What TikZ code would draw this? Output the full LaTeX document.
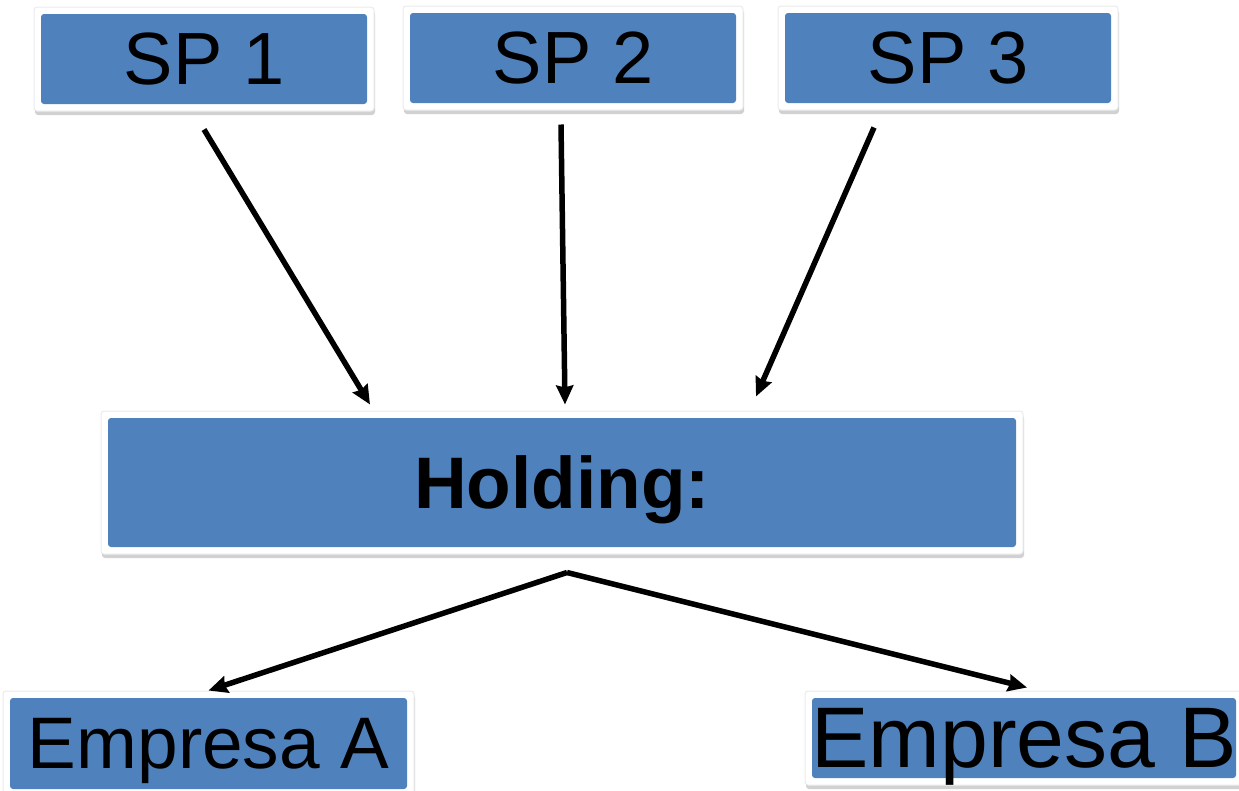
\documentclass[tikz,border=0pt]{standalone}
\usepackage{fontspec}
\setmainfont{Liberation Sans}
\usetikzlibrary{arrows.meta,shadows}
\definecolor{boxblue}{HTML}{4F81BD}

\begin{document}
\begin{tikzpicture}[x=1pt, y=-1pt, >={Stealth[length=19pt,width=17pt,inset=2pt]},
    framed/.style={rectangle, rounded corners=3pt, fill=white, draw=black!8, line width=1pt,
      inner sep=0pt, text depth=0pt,
      drop shadow={shadow xshift=1pt, shadow yshift=-4pt, opacity=0.18, fill=black},
      path picture={\fill[boxblue] ([shift={(7pt,7pt)}]path picture bounding box.south west)
        rectangle ([shift={(-7pt,-7pt)}]path picture bounding box.north east);}},
    every node/.style={font=\fontsize{74}{80}\selectfont}]
      \useasboundingbox (0,0) rectangle (1239,790);
      \node[framed, minimum width=340pt, minimum height=104pt] (sp1) at (204,59) {SP 1};
      \node[framed, minimum width=340pt, minimum height=104pt] (sp2) at (573,58) {SP 2};
      \node[framed, minimum width=340pt, minimum height=104pt] (sp3) at (948,58) {SP 3};
      \node[framed, minimum width=922pt, minimum height=143pt, font=\fontsize{73}{80}\selectfont\bfseries]
            (holding) at (562,482.5) {Holding:};
      \node[framed, minimum width=411pt, minimum height=105pt, font=\fontsize{73}{80}\selectfont]
            (empa) at (208.5,743.5) {Empresa A};
      \node[framed, minimum width=438pt, minimum height=94pt, font=\fontsize{86}{90}\selectfont]
            (empb) at (1024,738) {Empresa B};
      \coordinate (split) at ([shift={(5pt,-18pt)}]holding.south);
      \draw[->, line width=5.5pt] ([yshift=-18pt]sp1.south) -- ([shift={(-192pt,6pt)}]holding.north);
      \draw[->, line width=5.5pt] ([shift={(-12pt,-14pt)}]sp2.south) -- ([shift={(3pt,6pt)}]holding.north);
      \draw[->, line width=5.5pt] ([shift={(-74pt,-17pt)}]sp3.south) -- ([shift={(194pt,14pt)}]holding.north);
      \draw[->, line width=5.5pt] (split) -- (empa.north);
      \draw[->, line width=5.5pt] (split) -- ([shift={(3pt,3pt)}]empb.north);
    \end{tikzpicture}
\end{document}
